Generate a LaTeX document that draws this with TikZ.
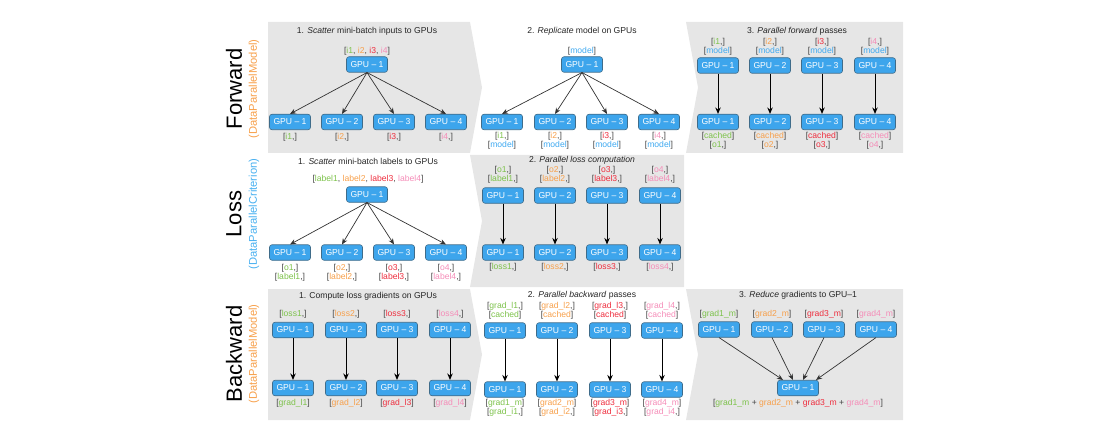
\documentclass[tikz,border=0pt]{standalone}
\usepackage{fontspec}
\setmainfont{Liberation Sans}
\usetikzlibrary{arrows.meta,calc}
\definecolor{c1}{HTML}{7DC24B}
\definecolor{c2}{HTML}{F7A04B}
\definecolor{c3}{HTML}{EE2E3E}
\definecolor{c4}{HTML}{F58DB8}
\definecolor{cmodel}{HTML}{3FA9F0}
\definecolor{panelgray}{HTML}{E6E6E6}
\definecolor{gpufill}{HTML}{3DA5EC}
\definecolor{gpuline}{HTML}{3F6C8A}
\definecolor{brk}{HTML}{444444}
\definecolor{dpmodel}{HTML}{F7A04B}
\definecolor{dpcrit}{HTML}{48B0F0}
\newcommand\smallfnt{\fontsize{8.6}{9.3}\selectfont}
\begin{document}
\begin{tikzpicture}[x=1pt,y=-1pt,
 gpu/.style={draw=gpuline, fill=gpufill, line width=0.6pt, rounded corners=2.5pt, minimum width=41pt, minimum height=15.5pt, inner sep=0pt, text=white, font=\smallfnt},
 lbl/.style={inner sep=0pt, text=brk, font=\smallfnt, align=center},
 ttl/.style={inner sep=0pt, text=black!85, font=\smallfnt},
 sarr/.style={draw=black!80, line width=0.7pt, -{Stealth[length=6pt,width=5pt]}},
 varr/.style={draw=black, line width=1pt, -{Stealth[length=6.5pt,width=5.5pt]}},
 panel/.style={fill=panelgray, draw=none},
 rowname/.style={rotate=90, inner sep=0pt, font=\fontsize{22}{24}\selectfont},
 rowsub/.style={rotate=90, inner sep=0pt, font=\fontsize{11.2}{13}\selectfont}]
\useasboundingbox (0,0) rectangle (1119,433);
% panels
\fill[panel] (268,22) -- (470,22) -- (482,87.5) -- (470,153) -- (268,153) -- cycle;
\fill[panel] (686,22) -- (903,22) -- (903,153) -- (686,153) -- (698,87.5) -- cycle;
\fill[panel] (470,155) -- (684,155) -- (684,287) -- (470,287) -- (482,221) -- cycle;
\fill[panel] (268,289) -- (470,289) -- (482,354.5) -- (470,420) -- (268,420) -- cycle;
\fill[panel] (686,289) -- (903,289) -- (903,420) -- (686,420) -- (698,354.5) -- cycle;
% row names
\node[rowname] (nf) at (234,89) {Forward};
\node[rowsub, text=dpmodel] (sf) at (254,89) {(DataParallelModel)};
\node[rowname] (nl) at (234,214) {Loss};
\node[rowsub, text=dpcrit] (sl) at (254,214) {(DataParallelCriterion)};
\node[rowname] (nb) at (234,354) {Backward};
\node[rowsub, text=dpmodel] (sb) at (254,354) {(DataParallelModel)};
% Row 1 panel 1
\node[ttl] (t11) at (367,31) {1. \textit{Scatter} mini-batch inputs to GPUs};
\node[lbl] (l11) at (367,51) {[\textcolor{c1}{i1}, \textcolor{c2}{i2}, \textcolor{c3}{i3}, \textcolor{c4}{i4}]};
\node[gpu] (f1t) at (367,64.5) {GPU – 1};
\foreach \x/\i in {290/1,342/2,394/3,446/4}{
 \node[gpu] (f1b\i) at (\x,122) {GPU – \i};
 \node[lbl] (f1l\i) at (\x,137) {[\textcolor{c\i}{i\i},]};
 \draw[sarr] (f1t.south) -- (f1b\i.north);
}
% Row 1 panel 2
\node[ttl] (t12) at (582,31) {2. \textit{Replicate} model on GPUs};
\node[lbl] (l12) at (582,51) {[\textcolor{cmodel}{model}]};
\node[gpu] (f2t) at (582,64.5) {GPU – 1};
\foreach \x/\i in {502/1,555/2,607/3,659/4}{
 \node[gpu] (f2b\i) at (\x,122) {GPU – \i};
 \node[lbl] (f2l\i) at (\x,141) {[\textcolor{c\i}{i\i},]\\{}[\textcolor{cmodel}{model}]};
 \draw[sarr] (f2t.south) -- (f2b\i.north);
}
% Row 1 panel 3
\node[ttl] (t13) at (797,31) {3. \textit{Parallel forward} passes};
\foreach \x/\i in {718/1,770/2,822/3,875/4}{
 \node[lbl] (f3u\i) at (\x,47) {[\textcolor{c\i}{i\i},]\\{}[\textcolor{cmodel}{model}]};
 \node[gpu] (f3t\i) at (\x,65.5) {GPU – \i};
 \node[gpu] (f3b\i) at (\x,122) {GPU – \i};
 \node[lbl] (f3l\i) at (\x,141) {[\textcolor{c\i}{cached}]\\{}[\textcolor{c\i}{o\i},]};
 \draw[varr] (f3t\i) -- (f3b\i);
}
% Row 2 panel 1
\node[ttl] (t21) at (368,161) {1. \textit{Scatter} mini-batch labels to GPUs};
\node[lbl] (l21) at (368,179) {[\textcolor{c1}{label1}, \textcolor{c2}{label2}, \textcolor{c3}{label3}, \textcolor{c4}{label4}]};
\node[gpu] (s1t) at (367,194.5) {GPU – 1};
\foreach \x/\i in {290/1,342/2,394/3,446/4}{
 \node[gpu] (s1b\i) at (\x,252.5) {GPU – \i};
 \node[lbl] (s1l\i) at (\x,272.5) {[\textcolor{c\i}{o\i},]\\{}[\textcolor{c\i}{label\i},]};
 \draw[sarr] (s1t.south) -- (s1b\i.north);
}
% Row 2 panel 2
\node[ttl] (t22) at (582,160) {2. \textit{Parallel loss computation}};
\foreach \x/\i in {503/1,555/2,607/3,660/4}{
 \node[lbl] (s2u\i) at (\x,175) {[\textcolor{c\i}{o\i},]\\{}[\textcolor{c\i}{label\i},]};
 \node[gpu] (s2t\i) at (\x,195.5) {GPU – \i};
 \node[gpu] (s2b\i) at (\x,252.5) {GPU – \i};
 \node[lbl] (s2l\i) at (\x,267.5) {[\textcolor{c\i}{loss\i},]};
 \draw[varr] (s2t\i) -- (s2b\i);
}
% Row 3 panel 1
\node[ttl] (t31) at (368,296) {1. Compute loss gradients on GPUs};
\foreach \x/\i in {293/1,346/2,397/3,450/4}{
 \node[lbl] (b1u\i) at (\x,314) {[\textcolor{c\i}{loss\i},]};
 \node[gpu] (b1t\i) at (\x,330) {GPU – \i};
 \node[gpu] (b1b\i) at (\x,388) {GPU – \i};
 \node[lbl] (b1l\i) at (\x,403.5) {[\textcolor{c\i}{grad\_l\i}]};
 \draw[varr] (b1t\i) -- (b1b\i);
}
% Row 3 panel 2
\node[ttl] (t32) at (582,295) {2. \textit{Parallel backward} passes};
\foreach \x/\i in {505/1,557/2,610/3,662/4}{
 \node[lbl] (b2u\i) at (\x,311) {[\textcolor{c\i}{grad\_l\i},]\\{}[\textcolor{c\i}{cached}]};
 \node[gpu] (b2t\i) at (\x,330.5) {GPU – \i};
 \node[gpu] (b2b\i) at (\x,389.5) {GPU – \i};
 \node[lbl] (b2l\i) at (\x,408) {[\textcolor{c\i}{grad\i\_m}]\\{}[\textcolor{c\i}{grad\_i\i},]};
 \draw[varr] (b2t\i) -- (b2b\i);
}
% Row 3 panel 3
\node[ttl] (t33) at (798,295) {3. \textit{Reduce} gradients to GPU–1};
\node[gpu] (b3b) at (798,388) {GPU – 1};
\node[lbl] (b3l) at (798,403.5) {[\textcolor{c1}{grad1\_m} + \textcolor{c2}{grad2\_m} + \textcolor{c3}{grad3\_m} + \textcolor{c4}{grad4\_m}]};
\foreach \x/\i/\dx in {719/1/-15,772/2/-5,824/3/5,876/4/18}{
 \node[lbl] (b3u\i) at (\x,314) {[\textcolor{c\i}{grad\i\_m}]};
 \node[gpu] (b3t\i) at (\x,329.5) {GPU – \i};
 \draw[sarr] (b3t\i.south) -- ([xshift=\dx pt]b3b.north);
}
\end{tikzpicture}
\end{document}
